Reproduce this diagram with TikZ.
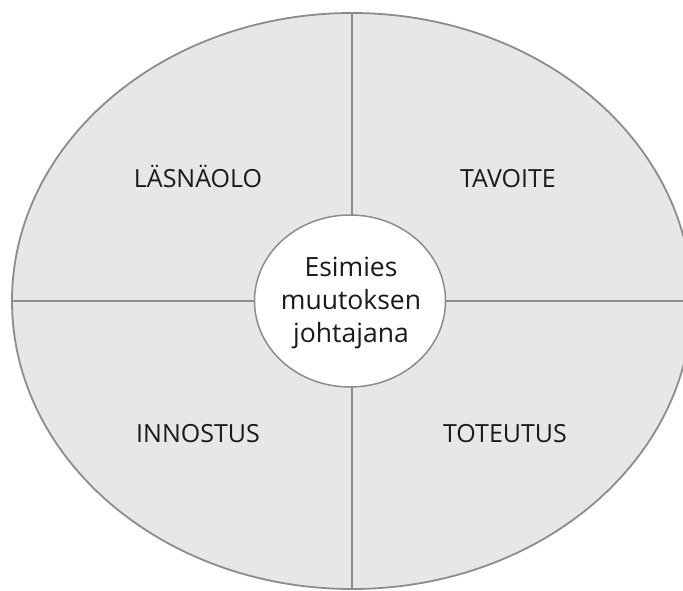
\documentclass[tikz,border=0pt]{standalone}
\usepackage{fontspec}
\setmainfont{Open Sans}
\usetikzlibrary{shapes.geometric}
\definecolor{sectorfill}{HTML}{E6E7E8}
\definecolor{edgegray}{HTML}{8C8C8C}
\definecolor{textdark}{HTML}{1A1A1A}
\tikzset{
  outerring/.style={ellipse, draw=edgegray, line width=1.8pt, fill=sectorfill, inner sep=0pt, outer sep=0pt},
  divider/.style={draw=edgegray, line width=1.5pt},
  hub/.style={ellipse, draw=edgegray, line width=1.5pt, fill=white, inner sep=0pt, outer sep=0pt},
  hubtext/.style={align=center, font=\fontsize{26.5}{33}\selectfont, text=textdark, inner sep=0pt},
  quadlabel/.style={font=\fontsize{25}{30}\selectfont, text=textdark, inner sep=0pt, anchor=base}
}
\begin{document}
\begin{tikzpicture}[x=1pt,y=-1pt]
\useasboundingbox (0,0) rectangle (683,590);
\clip (0,0) rectangle (683,590);
\node[outerring, minimum width=680pt, minimum height=576pt] (outer) at (352,301) {};
\begin{scope}
  \clip (352,301) ellipse [x radius=339pt, y radius=287pt];
  \draw[divider] (outer.north) -- (outer.south);
  \draw[divider] (outer.west) -- (outer.east);
\end{scope}
\node[hub, minimum width=191pt, minimum height=172pt] (hub) at (350,301) {};
\node[hubtext] (hubtext) at (351,303) {Esimies\\muutoksen\\johtajana};
\node[quadlabel] (lasnaolo) at (198,187) {LÄSNÄOLO};
\node[quadlabel] (tavoite) at (508,187) {TAVOITE};
\node[quadlabel] (innostus) at (198,442) {INNOSTUS};
\node[quadlabel] (toteutus) at (505,442) {TOTEUTUS};
\end{tikzpicture}
\end{document}
